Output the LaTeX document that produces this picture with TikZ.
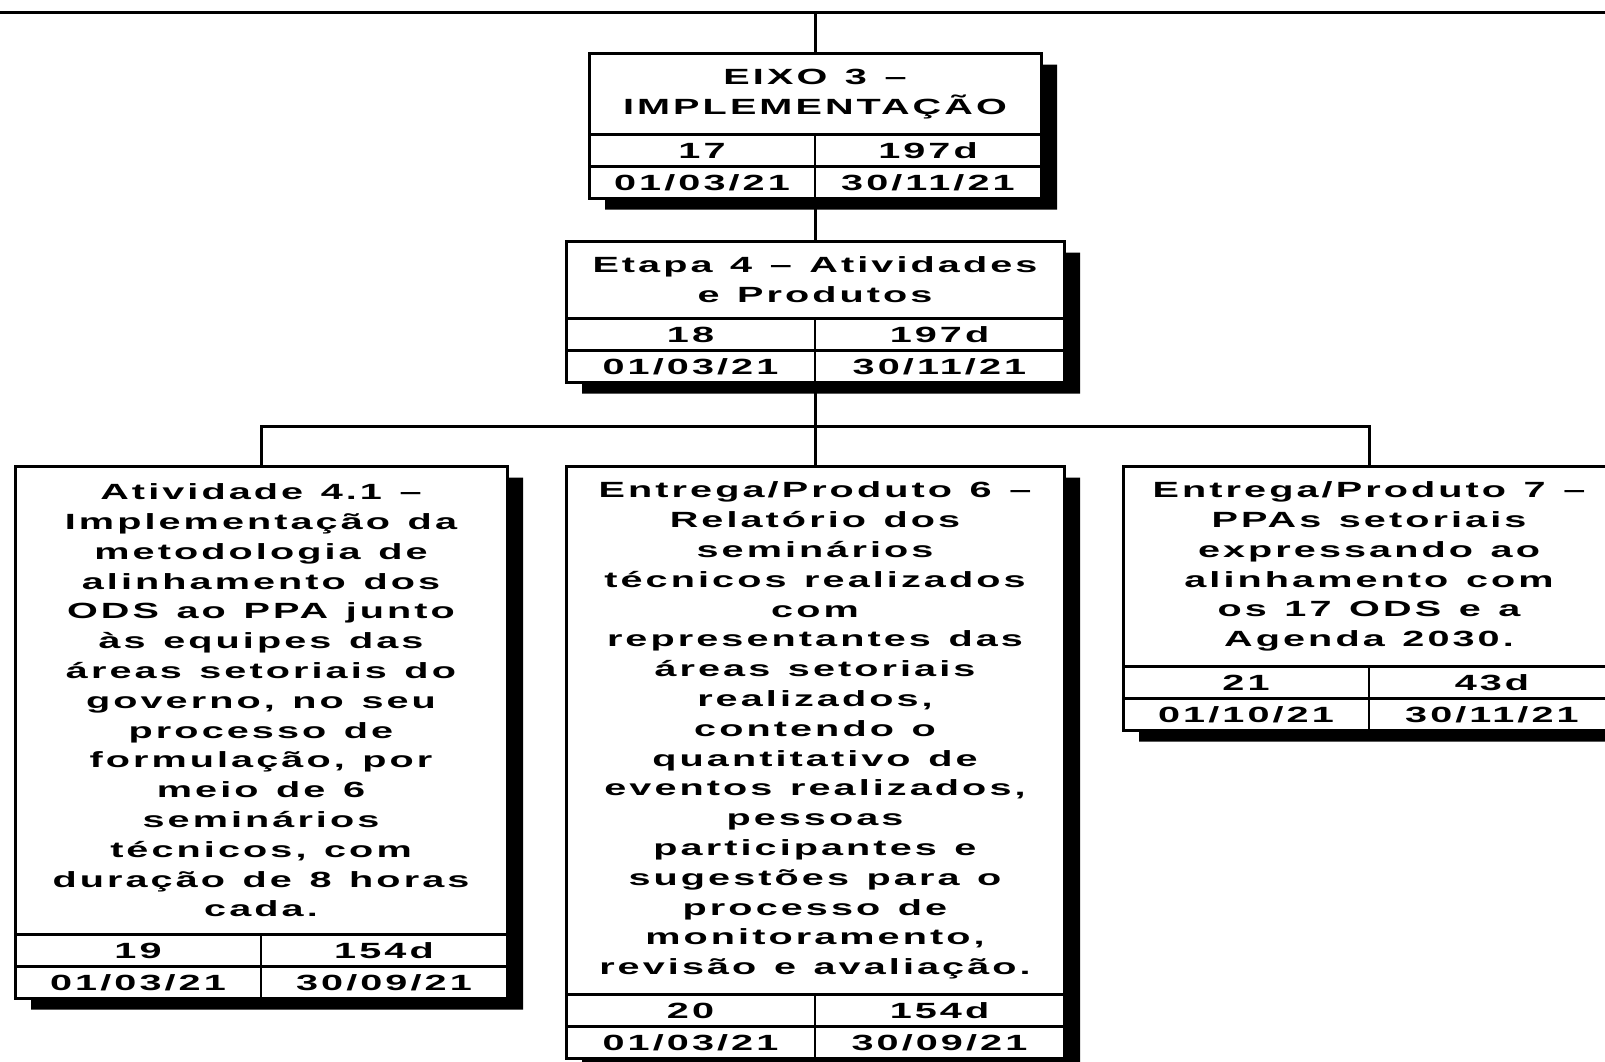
\documentclass[tikz,border=0pt]{standalone}
\usepackage{fontspec}
\newfontfamily\fonte{Liberation Sans Bold}[FakeStretch=1.8,LetterSpace=14,WordSpace=1.25]
\usetikzlibrary{shapes.multipart,shadows}
\newlength\pxu
\setlength\pxu{0.5pt}
\newcommand\titulo[3]{\parbox[c][#2\pxu][c]{#1\pxu}{\centering #3}}
\newcommand\linha[3]{\parbox[c][29\pxu][c]{#1\pxu}{\centering #2}\parbox[c][29\pxu][c]{#1\pxu}{\centering #3}}
\begin{document}
\begin{tikzpicture}[x=0.5pt,y=0.5pt,
  caixa/.style={rectangle split,rectangle split parts=3,draw,fill=white,
    line width=1.5pt,inner sep=0pt,anchor=north,
    font=\fonte\fontsize{11pt}{14.9pt}\selectfont,
    drop shadow={shadow xshift=8pt,shadow yshift=-5.5pt,fill=black,opacity=1}},
  edge from parent/.style={draw,line width=1.5pt},
  edge from parent path={(\tikzparentnode.south) -- (\tikzchildnode.north)},
  level 1/.style={level distance=57pt},
  level 2/.style={level distance=76.5pt,sibling distance=277pt,
    edge from parent path={(\tikzparentnode.south) -- ++(0,-42) -| (\tikzchildnode.north)}}]
\clip (0,0) rectangle (1605,-1061);
\coordinate (linhaE) at (0,-12);
\coordinate (linhaD) at (1605,-12);
\draw[line width=1.5pt] (linhaE) -- (linhaD);
\node[caixa] (eixo) at (815,-52) {\titulo{452}{78}{EIXO 3 –\\IMPLEMENTAÇÃO}%
    \nodepart{two}\linha{226}{17}{197d}\nodepart{three}\linha{226}{01/03/21}{30/11/21}}
    child {
        node[caixa] (etapa) {\titulo{498}{74}{Etapa 4 – Atividades\\e Produtos}%
            \nodepart{two}\linha{249}{18}{197d}\nodepart{three}\linha{249}{01/03/21}{30/11/21}}
            child {
                node[caixa] (ativ) {\titulo{492}{465}{Atividade 4.1 –\\Implementação da\\metodologia de\\alinhamento dos\\ODS ao PPA junto\\às equipes das\\áreas setoriais do\\governo, no seu\\processo de\\formulação, por\\meio de 6\\seminários\\técnicos, com\\duração de 8 horas\\cada.}%
                    \nodepart{two}\linha{246}{19}{154d}\nodepart{three}\linha{246}{01/03/21}{30/09/21}}
            }
            child {
                node[caixa] (prod6) {\titulo{498}{525}{Entrega/Produto 6 –\\Relatório dos\\seminários\\técnicos realizados\\com\\representantes das\\áreas setoriais\\realizados,\\contendo o\\quantitativo de\\eventos realizados,\\pessoas\\participantes e\\sugestões para o\\processo de\\monitoramento,\\revisão e avaliação.}%
                    \nodepart{two}\linha{249}{20}{154d}\nodepart{three}\linha{249}{01/03/21}{30/09/21}}
            }
            child {
                node[caixa] (prod7) {\titulo{492}{197}{Entrega/Produto 7 –\\PPAs setoriais\\expressando ao\\alinhamento com\\os 17 ODS e a\\Agenda 2030.}%
                    \nodepart{two}\linha{246}{21}{43d}\nodepart{three}\linha{246}{01/10/21}{30/11/21}}
            }
    };
\draw[line width=1.5pt] (eixo.north) -- (eixo.north |- linhaE);
\foreach \n in {eixo,etapa,ativ,prod6,prod7}
    \draw[line width=1.2pt] (\n.text split) -- (\n.south);
\end{tikzpicture}
\end{document}
